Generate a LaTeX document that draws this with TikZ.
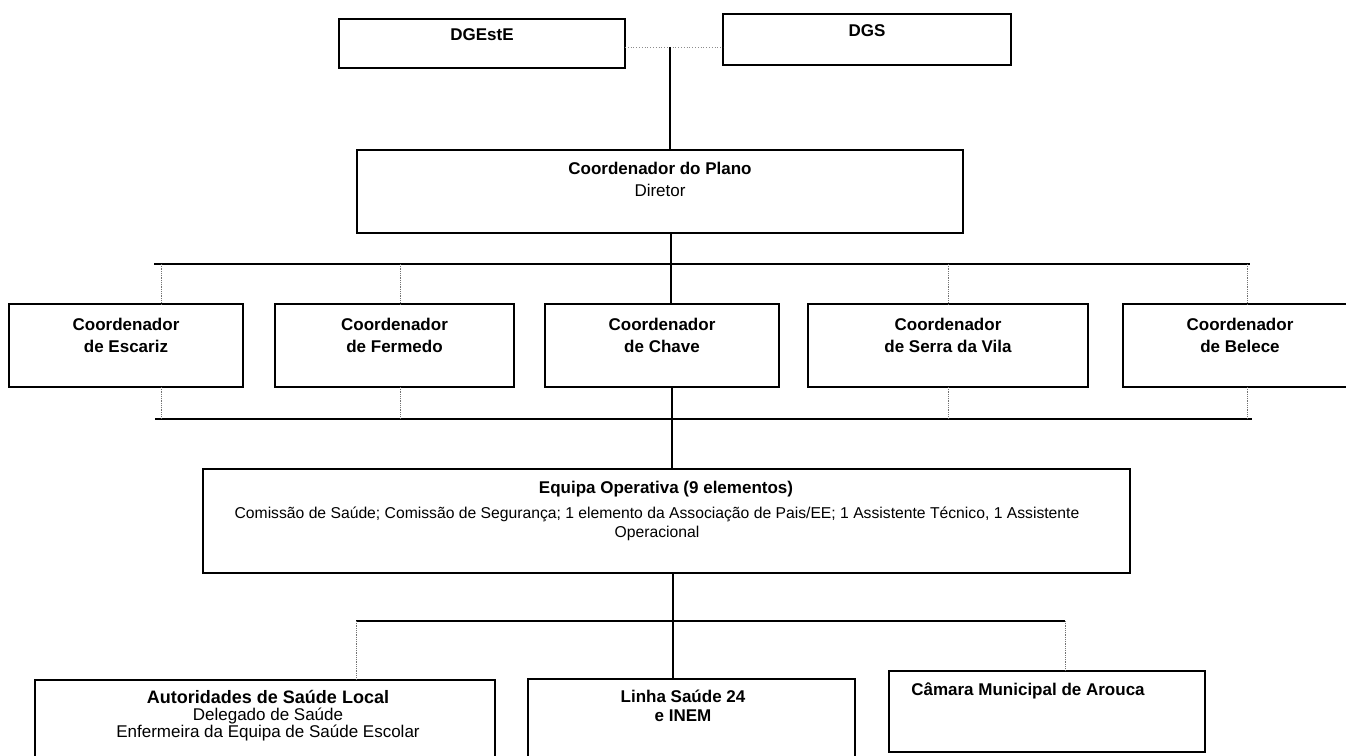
\documentclass[tikz,border=0pt]{standalone}
\usepackage{fontspec}
\setmainfont{Liberation Sans}
\usetikzlibrary{calc}

\begin{document}
\begin{tikzpicture}[x=1pt,y=-1pt]
        \tikzstyle{every node}=[inner sep=0pt,outer sep=0pt]
        \tikzstyle{box}=[rectangle,draw=black,line width=1.3pt]
        \tikzstyle{lbl}=[align=center,font=\fontsize{17}{22}\selectfont\bfseries]
        \tikzstyle{bus}=[draw=black,line width=1.6pt]
        \tikzstyle{link}=[draw=black,line width=1.2pt]
        \tikzstyle{drop}=[draw=black!55,line width=0.8pt,densely dotted]

        \useasboundingbox (0,0) rectangle (1346,755);
        \clip (0,0) rectangle (1346,755);

        % top level
        \node [box, minimum width=286pt, minimum height=49pt] (dgeste) at (482,43.5) {};
        \node [lbl] (dgeste text) at (482,35) {DGEstE};
        \node [box, minimum width=288pt, minimum height=51pt] (dgs) at (867,39.5) {};
        \node [lbl] (dgs text) at (867,31) {DGS};

        \node [box, minimum width=606pt, minimum height=83pt] (plano) at (660,191.5) {};
        \node [lbl] (plano text) at (660,179) {Coordenador do Plano\\{\mdseries Diretor}};

        % coordinators
        \node [box, minimum width=234pt, minimum height=83pt] (escariz) at (126,345.5) {};
        \node [lbl] (escariz text) at (126,335) {Coordenador\\de Escariz};
        \node [box, minimum width=239pt, minimum height=83pt] (fermedo) at (394.5,345.5) {};
        \node [lbl] (fermedo text) at (394.5,335) {Coordenador\\de Fermedo};
        \node [box, minimum width=234pt, minimum height=83pt] (chave) at (662,345.5) {};
        \node [lbl] (chave text) at (662,335) {Coordenador\\de Chave};
        \node [box, minimum width=280pt, minimum height=83pt] (serra) at (948,345.5) {};
        \node [lbl] (serra text) at (948,335) {Coordenador\\de Serra da Vila};
        \node [box, minimum width=237pt, minimum height=83pt] (belece) at (1241.5,345.5) {};
        \node [lbl] (belece text) at (1240,335) {Coordenador\\de Belece};

        % operational team
        \node [box, minimum width=927pt, minimum height=104pt] (equipa) at (666.5,521) {};
        \node [lbl] (equipa title) at (666,489) {Equipa Operativa (9 elementos)};
        \node [lbl, font=\fontsize{15.7}{19}\selectfont] (equipa text) at (657,523.5)
            {Comissão de Saúde; Comissão de Segurança; 1 elemento da Associação de Pais/EE; 1 Assistente Técnico, 1 Assistente\\Operacional};

        % external partners
        \node [box, minimum width=460pt, minimum height=90pt] (autoridades) at (265,725) {};
        \node [lbl, font=\fontsize{17}{17}\selectfont] (autoridades text) at (268,716)
            {{\bfseries\fontsize{18}{17}\selectfont Autoridades de Saúde Local}\\Delegado de Saúde\\Enfermeira da Equipa de Saúde Escolar};
        \node [box, minimum width=327pt, minimum height=91pt] (linha) at (691.5,724.5) {};
        \node [lbl, font=\fontsize{17}{19}\selectfont\bfseries] (linha text) at (683,705.5) {Linha Saúde 24\\e INEM};
        \node [box, minimum width=316pt, minimum height=81pt] (camara) at (1047,711.5) {};
        \node [lbl] (camara text) at (1028,691) {Câmara Municipal de Arouca};

        % connectors
        \coordinate (top) at (670,47);
        \draw [drop, dotted, draw=black!45] (dgeste.east |- top) to (dgs.west |- top);
        \draw [link] (top) to (top |- plano.north);

        \coordinate (b0) at (671,264);
        \coordinate (bl) at (154,264);
        \coordinate (br) at (1250,264);
        \coordinate (d1) at (161,264);
        \coordinate (d2) at (400,264);
        \coordinate (d3) at (948,264);
        \coordinate (d4) at (1247,264);
        \draw [link] (b0 |- plano.south) to (b0 |- chave.north);
        \draw [bus] (bl) to (br);
        \draw [drop] (d1) to (d1 |- escariz.north);
        \draw [drop] (d2) to (d2 |- fermedo.north);
        \draw [drop] (d3) to (d3 |- serra.north);
        \draw [drop] (d4) to (d4 |- belece.north);

        \coordinate (c0) at (672,419);
        \coordinate (cl) at (155,419);
        \coordinate (cr) at (1252,419);
        \draw [bus] (cl) to (cr);
        \draw [drop] (d1 |- escariz.south) to (d1 |- cl);
        \draw [drop] (d2 |- fermedo.south) to (d2 |- cl);
        \draw [drop] (d3 |- serra.south) to (d3 |- cl);
        \draw [drop] (d4 |- belece.south) to (d4 |- cl);
        \draw [link] (c0 |- chave.south) to (c0 |- equipa.north);

        \coordinate (e0) at (673,621);
        \coordinate (el) at (356,621);
        \coordinate (er) at (1065,621);
        \draw [link] (e0 |- equipa.south) to (e0 |- linha.north);
        \draw [bus] (el) to (er);
        \draw [drop] (el) to (el |- autoridades.north);
        \draw [drop] (er) to (er |- camara.north);
\end{tikzpicture}
\end{document}
